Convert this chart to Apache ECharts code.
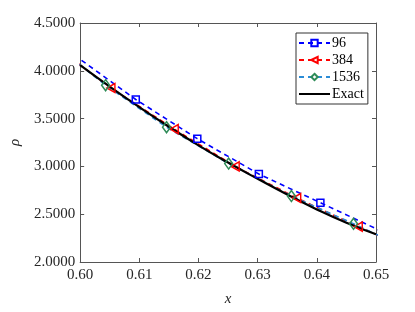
<!DOCTYPE html>
<html><head><meta charset="utf-8">
<script src="https://cdn.jsdelivr.net/npm/echarts@6/dist/echarts.min.js"></script>
<style>html,body{margin:0;padding:0;background:#fff}#c{width:415px;height:312px}</style>
</head><body><div id="c"></div>
<script>
// data
const xTicks = [0.60, 0.61, 0.62, 0.63, 0.64, 0.65];
const yTicks = [2.0, 2.5, 3.0, 3.5, 4.0, 4.5];
const seriesNames = ['96', '384', '1536', 'Exact'];
const x96 = [0.5990, 0.6094, 0.6198, 0.6302, 0.6406, 0.6510];
const y96 = [4.165, 3.70, 3.29, 2.92, 2.62, 2.32];
const x384 = [0.5948, 0.6052, 0.6159, 0.6262, 0.6366, 0.6470, 0.6574];
const y384 = [4.30, 3.82, 3.39, 3.00, 2.67, 2.37, 2.09];
const x1536 = [0.5939, 0.6043, 0.6146, 0.6251, 0.6357, 0.6462, 0.6566];
const y1536 = [4.36, 3.85, 3.41, 3.03, 2.69, 2.40, 2.10];
const xExact = [0.600, 0.605, 0.610, 0.615, 0.620, 0.625, 0.630, 0.635, 0.640, 0.645, 0.650];
const yExact = [4.06, 3.835, 3.62, 3.415, 3.22, 3.04, 2.87, 2.705, 2.55, 2.41, 2.29];

const zip = (a, b) => a.map((v, i) => [v, b[i]]);
const FONT = 'Liberation Serif';
const AX = '#555';
const TXT = '#262626';
const NOFILL = 'rgba(255,255,255,0)';

const chart = echarts.init(document.getElementById('c'), null, {renderer: 'canvas'});
const baseX = {
  type: 'value', min: xTicks[0], max: xTicks[xTicks.length - 1], interval: 0.01,
  axisLine: {show: true, lineStyle: {color: AX, width: 1}},
  axisTick: {show: true, inside: true, length: 4, lineStyle: {color: AX}},
  splitLine: {show: false}
};
const baseY = {
  type: 'value', min: yTicks[0], max: yTicks[yTicks.length - 1], interval: 0.5,
  axisLine: {show: true, lineStyle: {color: AX, width: 1}},
  axisTick: {show: true, inside: true, length: 4, lineStyle: {color: AX}},
  splitLine: {show: false}
};
chart.setOption({
  animation: false,
  grid: {left: 71, right: 39, top: 23, bottom: 45},
  legend: {
    data: [
      {name: seriesNames[0]}, {name: seriesNames[1]}, {name: seriesNames[2]},
      {name: seriesNames[3], itemStyle: {color: NOFILL, borderColor: NOFILL, borderWidth: 0}}
    ],
    orient: 'vertical', left: 296, top: 33,
    backgroundColor: '#fff', borderColor: '#333', borderWidth: 1,
    padding: [3, 4, 3, 2], itemWidth: 31, itemHeight: 8, itemGap: 3,
    textStyle: {fontFamily: FONT, fontSize: 14, color: '#000', padding: [0, 0, 0, -3]}
  },
  xAxis: [
    Object.assign({}, baseX, {position: 'bottom',
      name: 'x', nameLocation: 'middle', nameGap: 30,
      nameTextStyle: {fontFamily: FONT, fontSize: 15, fontStyle: 'italic', color: TXT},
      axisLabel: {fontFamily: FONT, fontSize: 15, color: TXT, margin: 6, formatter: v => v.toFixed(2)}}),
    Object.assign({}, baseX, {position: 'top', axisLabel: {show: false}})
  ],
  yAxis: [
    Object.assign({}, baseY, {position: 'left',
      name: 'ρ', nameLocation: 'middle', nameGap: 46, nameRotate: 90,
      nameTextStyle: {fontFamily: FONT, fontSize: 15, fontStyle: 'italic', color: TXT},
      axisLabel: {fontFamily: FONT, fontSize: 15, color: TXT, margin: 5, formatter: v => v.toFixed(4)}}),
    Object.assign({}, baseY, {position: 'right', axisLabel: {show: false}})
  ],
  series: [
    {name: seriesNames[0], type: 'line', data: zip(x96, y96), clip: true,
     symbol: 'rect', symbolSize: 7, showAllSymbol: true,
     lineStyle: {color: '#0000ff', width: 1.6, type: [5, 4]},
     itemStyle: {color: NOFILL, borderColor: '#0000ff', borderWidth: 1.5}, color: '#0000ff'},
    {name: seriesNames[1], type: 'line', data: zip(x384, y384), clip: true,
     symbol: 'triangle', symbolRotate: 90, symbolSize: [9, 8], showAllSymbol: true,
     lineStyle: {color: '#ff0000', width: 1.6, type: [5, 4]},
     itemStyle: {color: NOFILL, borderColor: '#ff0000', borderWidth: 1.5}, color: '#ff0000'},
    {name: seriesNames[2], type: 'line', data: zip(x1536, y1536), clip: true,
     symbol: 'diamond', symbolSize: [8, 11], showAllSymbol: true,
     lineStyle: {color: '#2b8cd6', width: 1.6, type: [5, 4]},
     itemStyle: {color: NOFILL, borderColor: '#2e8b57', borderWidth: 1.5}, color: '#2e8b57'},
    {name: seriesNames[3], type: 'line', data: zip(xExact, yExact), clip: true,
     smooth: true, symbol: 'none',
     lineStyle: {color: '#000', width: 2.2}, itemStyle: {color: '#000'}, color: '#000'}
  ]
});
</script></body></html>
